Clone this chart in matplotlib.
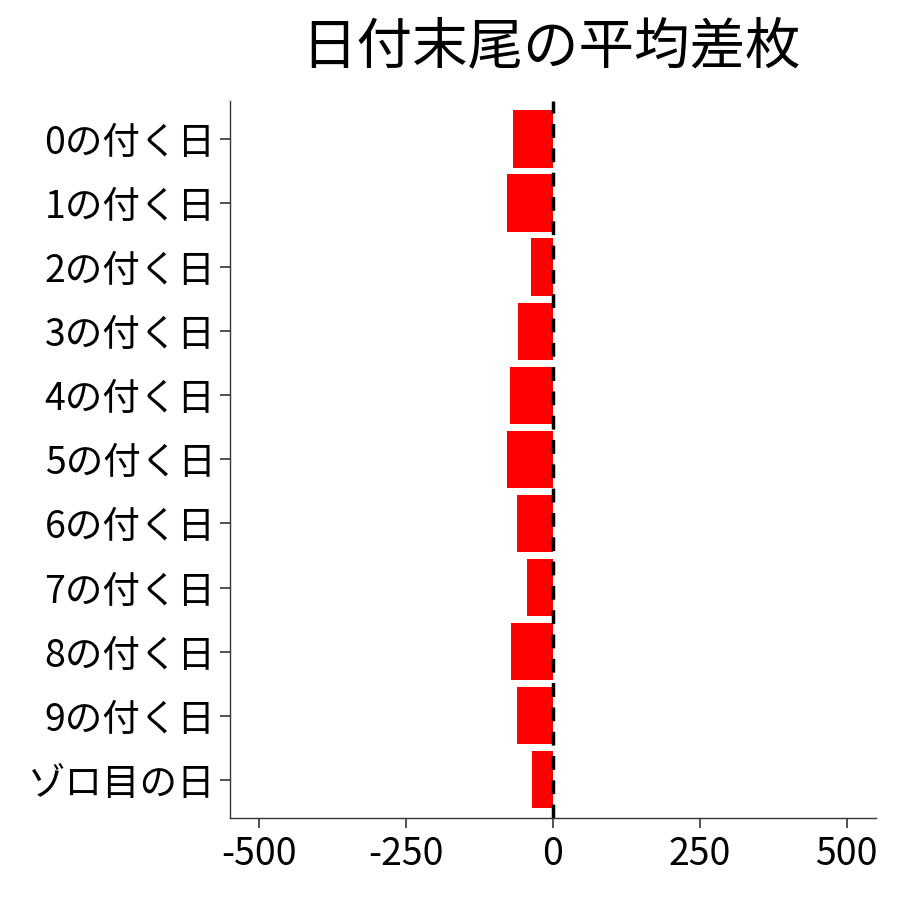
import matplotlib
matplotlib.use("Agg")
import matplotlib.pyplot as plt

plt.rcParams['font.family'] = ['Noto Sans CJK JP', 'DejaVu Sans']

labels = ["0の付く日", "1の付く日", "2の付く日", "3の付く日", "4の付く日",
          "5の付く日", "6の付く日", "7の付く日", "8の付く日", "9の付く日", "ゾロ目の日"]
values = [-68, -79, -37, -59, -73, -78, -61, -45, -71, -62, -35]
xticks = [-500, -250, 0, 250, 500]

fig = plt.figure(figsize=(9, 9), dpi=100)
ax = fig.add_axes([0.2555, 0.091, 0.7178, 0.797])

pos = list(range(len(labels), 0, -1))
ax.barh(pos, values, height=0.9, color="#ff0000")
ax.axvline(0, color="black", linestyle=(0, (4, 3)), linewidth=2.5)

ax.set_xlim(-550, 550)
ax.set_ylim(0.4, len(labels) + 0.6)
ax.set_xticks(xticks)
ax.set_xticklabels([str(v) for v in xticks])
ax.set_yticks(pos)
ax.set_yticklabels(labels)
ax.tick_params(axis="both", labelsize=27, length=7, width=1.2, color="#333333", labelcolor="black")
ax.tick_params(axis="x", pad=5)

for s in ["top", "right"]:
    ax.spines[s].set_visible(False)
for s in ["left", "bottom"]:
    ax.spines[s].set_color("#333333")
    ax.spines[s].set_linewidth(1.0)

fig.text(0.612, 0.947, "日付末尾の平均差枚", ha="center", va="center", fontsize=40)

fig.savefig("out.png", dpi=100)
